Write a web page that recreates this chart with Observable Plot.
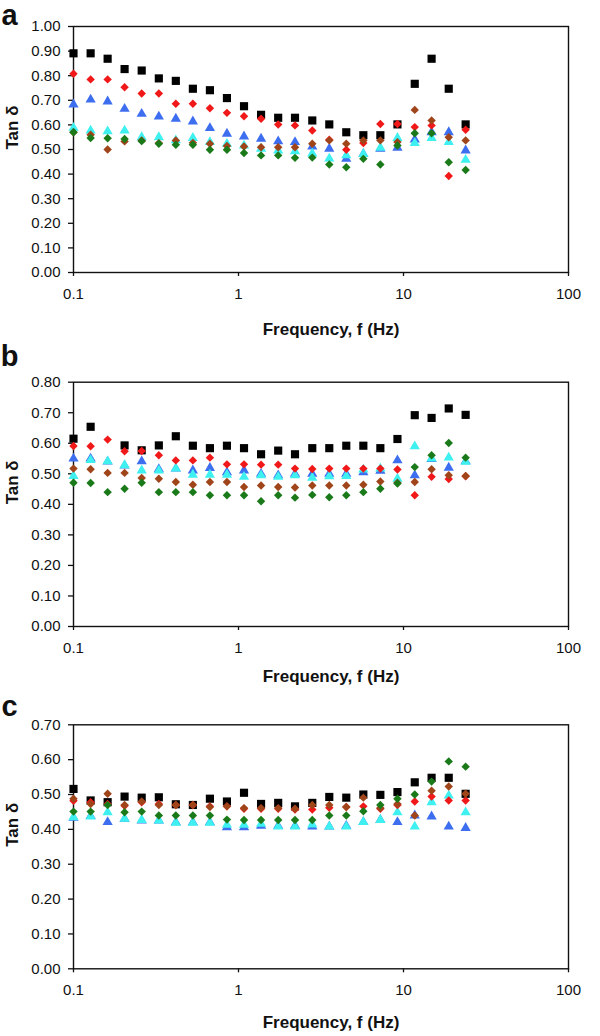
<!DOCTYPE html>
<html><head><meta charset="utf-8">
<script src="https://cdn.jsdelivr.net/npm/d3@7"></script>
<script src="https://cdn.jsdelivr.net/npm/@observablehq/plot@0.6"></script>
<style>
body{margin:0;background:#fff;width:600px;}
#chart svg{display:block;}
</style></head><body><div id="chart"></div>
<script>
// Frequencies (Hz)
const freq = [0.1,0.127,0.161,0.204,0.259,0.329,0.417,0.529,0.671,0.851,1.08,1.37,1.74,2.2,2.8,3.55,4.5,5.71,7.24,9.19,11.7,14.8,18.8,23.8];

const xTicks = [0.1, 1, 10, 100];
const xTickLabels = ["0.1", "1", "10", "100"];
const yTicksA = [0,0.1,0.2,0.3,0.4,0.5,0.6,0.7,0.8,0.9,1.0];
const yTicksB = [0,0.1,0.2,0.3,0.4,0.5,0.6,0.7,0.8];
const yTicksC = [0,0.1,0.2,0.3,0.4,0.5,0.6,0.7];

const seriesKeys = ["black","blue","cyan","red","brown","green"];
const seriesColors = ["#000000","#3d6ef0","#3ff0f0","#f01818","#a0441a","#1a7a1a"];
const seriesSymbols = ["square","triangle","triangle","diamond2","diamond2","diamond2"];

// Panel a
const a_black = [0.891,0.891,0.869,0.827,0.821,0.789,0.779,0.747,0.741,0.709,0.676,0.641,0.629,0.629,0.618,0.602,0.570,0.558,0.558,0.602,0.767,0.869,0.747,0.602];
const a_red   = [0.808,0.785,0.785,0.753,0.728,0.728,0.686,0.686,0.668,0.649,0.635,0.625,0.602,0.598,0.577,0.540,0.499,0.526,0.604,0.604,0.591,0.598,0.392,0.580];
const a_blue  = [0.683,0.703,0.695,0.665,0.645,0.634,0.625,0.614,0.587,0.564,0.553,0.544,0.533,0.530,0.512,0.503,0.462,0.482,0.503,0.507,0.540,0.570,0.570,0.496];
const a_cyan  = [0.588,0.577,0.574,0.577,0.550,0.550,0.537,0.547,0.530,0.523,0.516,0.503,0.496,0.493,0.484,0.463,0.476,0.482,0.507,0.547,0.526,0.547,0.530,0.458];
const a_brown = [0.570,0.560,0.500,0.533,0.537,0.526,0.537,0.527,0.523,0.514,0.512,0.509,0.509,0.509,0.523,0.537,0.523,0.537,0.537,0.530,0.661,0.618,0.550,0.537];
const a_green = [0.570,0.547,0.546,0.543,0.534,0.523,0.519,0.519,0.499,0.499,0.486,0.476,0.476,0.466,0.467,0.439,0.428,0.462,0.439,0.516,0.566,0.566,0.448,0.417];

// Panel b
const b_black = [0.615,0.654,null,0.593,0.577,0.593,0.623,0.592,0.584,0.592,0.584,0.564,0.576,0.564,0.584,0.584,0.592,0.592,0.584,0.614,0.692,0.683,0.714,0.693];
const b_red   = [0.591,0.590,0.612,0.574,0.575,0.561,0.544,0.544,0.553,0.531,0.531,0.530,0.530,0.517,0.516,0.517,0.517,0.517,0.517,0.514,0.430,0.490,0.483,0.492];
const b_blue  = [0.550,0.550,0.540,0.527,0.541,0.515,0.517,0.511,0.519,0.505,0.511,0.500,0.495,0.500,0.500,0.500,0.500,0.505,0.510,0.544,0.495,0.548,0.520,0.541];
const b_cyan  = [0.493,0.545,0.541,0.528,0.511,0.511,0.517,0.497,0.497,0.497,0.490,0.495,0.490,0.495,0.487,0.492,0.493,0.514,0.517,0.484,0.590,0.550,0.553,0.539];
const b_brown = [0.517,0.515,0.503,0.503,0.486,0.484,0.473,0.464,0.473,0.473,0.457,0.462,0.457,0.455,0.462,0.462,0.462,0.464,0.475,0.471,0.473,0.515,0.495,0.493];
const b_green = [0.471,0.470,0.440,0.451,0.471,0.440,0.440,0.440,0.430,0.430,0.430,0.410,0.430,0.422,0.431,0.423,0.430,0.440,0.451,0.468,0.522,0.561,0.601,0.553];

// Panel c
const c_black = [0.516,0.483,0.478,0.494,0.491,0.492,0.472,0.470,0.488,0.480,0.505,0.473,0.476,0.466,0.476,0.493,0.491,0.500,0.499,0.507,0.535,0.548,0.548,0.502];
const c_red   = [0.482,0.478,0.473,0.468,0.478,0.473,0.470,0.470,0.466,0.466,0.459,0.459,0.459,0.457,0.457,0.462,0.464,0.466,0.459,0.470,0.480,0.494,0.483,0.483];
const c_blue  = [0.433,0.438,0.421,0.430,0.425,0.425,0.420,0.420,0.420,0.406,0.406,0.410,0.410,0.410,0.408,0.408,0.410,0.421,0.427,0.421,0.440,0.437,0.408,0.404];
const c_cyan  = [0.435,0.437,0.449,0.430,0.427,0.425,0.419,0.419,0.419,0.413,0.413,0.416,0.408,0.408,0.414,0.408,0.408,0.421,0.427,0.449,0.408,0.478,0.497,0.449];
const c_brown = [0.488,0.473,0.502,0.470,0.480,0.470,0.470,0.470,0.464,0.466,0.461,0.461,0.461,0.459,0.470,0.470,0.464,0.491,0.461,0.473,0.440,0.511,0.523,0.502];
const c_green = [0.451,0.451,0.470,0.449,0.451,0.440,0.440,0.440,0.440,0.428,0.427,0.427,0.427,0.427,0.427,0.440,0.440,0.452,0.470,0.488,0.500,0.537,0.595,0.580];

const FONT = "Arial, 'Liberation Sans', Helvetica, sans-serif";

function rows(arrs) {
  const out = [];
  seriesKeys.forEach((k) => {
    arrs[k].forEach((v, i) => { if (v != null) out.push({f: freq[i], v, s: k}); });
  });
  return out;
}

function panel({letter, yTicks, ymax, data, height, mt, mb, letterY, titleDy}) {
  const marks = [];
  marks.push(Plot.frame({stroke: "#111", strokeWidth: 1.4}));
  marks.push(Plot.axisY({ticks: yTicks, tickFormat: d => d.toFixed(2), tickSize: 5, tickPadding: 8, fontSize: 15, label: null, stroke: "#111", strokeWidth: 1.3}));
  marks.push(Plot.axisX({ticks: xTicks, tickFormat: d => xTickLabels[xTicks.indexOf(d)], tickSize: 4, tickPadding: 12, fontSize: 15, label: null, stroke: "#111", strokeWidth: 1.3}));
  seriesKeys.forEach((k, si) => {
    const sym = seriesSymbols[si];
    const r = sym === "square" ? 4.6 : 3.8;
    marks.push(Plot.dot(data.filter(d => d.s === k), {x: "f", y: "v", symbol: () => sym, r, fill: seriesColors[si], stroke: "none"}));
  });
  marks.push(Plot.text(["Frequency, f (Hz)"], {frameAnchor: "bottom", dx: 10, dy: titleDy, fontWeight: "bold", fontSize: 17, lineAnchor: "middle"}));
  marks.push(Plot.text(["Tan δ"], {frameAnchor: "left", dx: -61, rotate: -90, fontWeight: "bold", fontSize: 17, lineAnchor: "middle"}));
  marks.push(Plot.text([letter], {frameAnchor: "top-left", dx: 9 - 73, dy: letterY - mt, fontWeight: "bold", fontSize: 29, textAnchor: "middle", lineAnchor: "middle"}));
  return Plot.plot({
    width: 600, height,
    marginTop: mt, marginBottom: mb, marginLeft: 73, marginRight: 32,
    style: {fontFamily: FONT, fontSize: "15px", background: "white", color: "#111", overflow: "visible"},
    x: {type: "log", domain: [0.1, 100]},
    y: {domain: [0, ymax]},
    symbol: {type: "identity"},
    marks
  });
}

const chart = document.getElementById("chart");
chart.appendChild(panel({letter: "a", yTicks: yTicksA, ymax: 1.0, height: 345, mt: 26, mb: 73, letterY: 15, titleDy: 57,
  data: rows({black: a_black, red: a_red, blue: a_blue, cyan: a_cyan, brown: a_brown, green: a_green})}));
chart.appendChild(panel({letter: "b", yTicks: yTicksB, ymax: 0.8, height: 345, mt: 36.7, mb: 64, letterY: 11, titleDy: 50,
  data: rows({black: b_black, red: b_red, blue: b_blue, cyan: b_cyan, brown: b_brown, green: b_green})}));
chart.appendChild(panel({letter: "c", yTicks: yTicksC, ymax: 0.7, height: 346, mt: 34.3, mb: 67.7, letterY: 16, titleDy: 54,
  data: rows({black: c_black, red: c_red, blue: c_blue, cyan: c_cyan, brown: c_brown, green: c_green})}));
</script></body></html>
